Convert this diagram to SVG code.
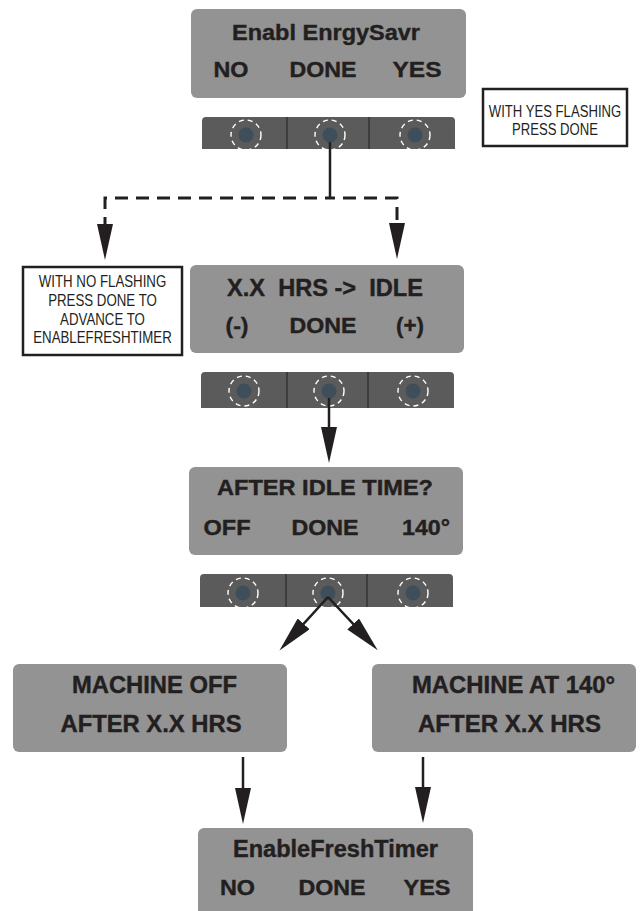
<svg xmlns="http://www.w3.org/2000/svg" width="642" height="911" viewBox="0 0 642 911">
<style>
.box{fill:#939393;}
.bar{fill:#5b5b5b;}
.div{stroke:#231f20;stroke-width:1;}
.ring{fill:none;stroke:#ffffff;stroke-width:1.4;stroke-dasharray:5 4;}
.dot{fill:#3e4f5b;}
.note{fill:#ffffff;stroke:#231f20;stroke-width:2.5;}
.t{font-family:"Liberation Sans",Arial,sans-serif;font-weight:bold;fill:#231f20;stroke:#231f20;stroke-width:0.4;text-anchor:middle;}
.n{font-family:"Liberation Sans",Arial,sans-serif;font-size:16px;fill:#231f20;text-anchor:middle;}
.ln{fill:none;stroke:#231f20;stroke-width:2.5;}
.dash{fill:none;stroke:#231f20;stroke-width:3;stroke-dasharray:13 8;stroke-dashoffset:8;}
</style>
<defs>
<marker id="ah" viewBox="0 0 36 16" refX="16" refY="8" markerWidth="36" markerHeight="16" orient="auto" markerUnits="userSpaceOnUse">
<path d="M0,0 L36,8 L0,16 Z" fill="#231f20"/>
</marker>
</defs>

<g id="enabl-energysavr">
<rect class="box" x="191" y="9" width="275" height="89" rx="6"/>
<text class="t" x="326" y="40" font-size="22" textLength="188" lengthAdjust="spacingAndGlyphs">Enabl EnrgySavr</text>
<text class="t" x="231" y="77" font-size="22" textLength="35" lengthAdjust="spacingAndGlyphs">NO</text>
<text class="t" x="323" y="77" font-size="22" textLength="67" lengthAdjust="spacingAndGlyphs">DONE</text>
<text class="t" x="417" y="77" font-size="22" textLength="49" lengthAdjust="spacingAndGlyphs">YES</text>
</g>

<g id="buttons-1">
<path class="bar" d="M202,149 V121 Q202,117 206,117 H451 Q455,117 455,121 V149 Z"/>
<line class="div" x1="287" y1="117" x2="287" y2="149"/>
<line class="div" x1="369" y1="117" x2="369" y2="149"/>
<circle class="dot" cx="246" cy="135" r="7.5"/><circle class="ring" cx="246" cy="135" r="15"/>
<circle class="dot" cx="330" cy="135" r="7.5"/><circle class="ring" cx="330" cy="135" r="15"/>
<circle class="dot" cx="415" cy="135" r="7.5"/><circle class="ring" cx="415" cy="135" r="15"/>
</g>

<g id="note-yes">
<rect class="note" x="483" y="89" width="144" height="57"/>
<text class="n" transform="translate(555,117) scale(0.82,1)" x="0" y="0">WITH YES FLASHING</text>
<text class="n" transform="translate(555,135) scale(0.82,1)" x="0" y="0">PRESS DONE</text>
</g>

<g id="note-no">
<rect class="note" x="23" y="267" width="159" height="88"/>
<text class="n" transform="translate(102.5,287) scale(0.83,1)" x="0" y="0">WITH NO FLASHING</text>
<text class="n" transform="translate(102.5,306) scale(0.83,1)" x="0" y="0">PRESS DONE TO</text>
<text class="n" transform="translate(102.5,325) scale(0.83,1)" x="0" y="0">ADVANCE TO</text>
<text class="n" transform="translate(102.5,343) scale(0.83,1)" x="0" y="0">ENABLEFRESHTIMER</text>
</g>

<g id="hrs-idle">
<rect class="box" x="190" y="265" width="274" height="88" rx="6"/>
<text class="t" x="325" y="296" font-size="23" textLength="196" lengthAdjust="spacingAndGlyphs" xml:space="preserve">X.X  HRS -&gt;  IDLE</text>
<text class="t" x="237" y="333" font-size="22" textLength="23" lengthAdjust="spacingAndGlyphs">(-)</text>
<text class="t" x="323" y="333" font-size="22" textLength="67" lengthAdjust="spacingAndGlyphs">DONE</text>
<text class="t" x="410" y="333" font-size="22" textLength="28" lengthAdjust="spacingAndGlyphs">(+)</text>
</g>

<g id="buttons-2">
<path class="bar" d="M201,408 V376 Q201,372 205,372 H450 Q454,372 454,376 V408 Z"/>
<line class="div" x1="287" y1="372" x2="287" y2="408"/>
<line class="div" x1="368" y1="372" x2="368" y2="408"/>
<circle class="dot" cx="244" cy="391" r="7.5"/><circle class="ring" cx="244" cy="391" r="15"/>
<circle class="dot" cx="329" cy="391" r="7.5"/><circle class="ring" cx="329" cy="391" r="15"/>
<circle class="dot" cx="413" cy="391" r="7.5"/><circle class="ring" cx="413" cy="391" r="15"/>
</g>

<g id="after-idle">
<rect class="box" x="189" y="467" width="274" height="88" rx="6"/>
<text class="t" x="325" y="495" font-size="22" textLength="216" lengthAdjust="spacingAndGlyphs">AFTER IDLE TIME?</text>
<text class="t" x="227" y="535" font-size="22" textLength="47" lengthAdjust="spacingAndGlyphs">OFF</text>
<text class="t" x="325" y="535" font-size="22" textLength="67" lengthAdjust="spacingAndGlyphs">DONE</text>
<text class="t" x="426" y="535" font-size="22" textLength="48" lengthAdjust="spacingAndGlyphs">140°</text>
</g>

<g id="buttons-3">
<path class="bar" d="M200,607 V578 Q200,574 204,574 H449 Q453,574 453,578 V607 Z"/>
<line class="div" x1="286" y1="574" x2="286" y2="607"/>
<line class="div" x1="367" y1="574" x2="367" y2="607"/>
<circle class="dot" cx="243" cy="593" r="7.5"/><circle class="ring" cx="243" cy="593" r="15"/>
<circle class="dot" cx="328" cy="593" r="7.5"/><circle class="ring" cx="328" cy="593" r="15"/>
<circle class="dot" cx="413" cy="593" r="7.5"/><circle class="ring" cx="413" cy="593" r="15"/>
</g>

<g id="machine-off">
<rect class="box" x="13" y="664" width="274" height="88" rx="6"/>
<text class="t" x="154.5" y="693" font-size="23" textLength="165" lengthAdjust="spacingAndGlyphs">MACHINE OFF</text>
<text class="t" x="151" y="732" font-size="23" textLength="181" lengthAdjust="spacingAndGlyphs">AFTER X.X HRS</text>
</g>

<g id="machine-140">
<rect class="box" x="372" y="664" width="264" height="88" rx="6"/>
<text class="t" x="513.5" y="693" font-size="23" textLength="203" lengthAdjust="spacingAndGlyphs">MACHINE AT 140°</text>
<text class="t" x="509.5" y="732" font-size="23" textLength="183" lengthAdjust="spacingAndGlyphs">AFTER X.X HRS</text>
</g>

<g id="enable-fresh-timer">
<rect class="box" x="198" y="828" width="275" height="95" rx="6"/>
<text class="t" x="335.5" y="857" font-size="23" textLength="205" lengthAdjust="spacingAndGlyphs">EnableFreshTimer</text>
<text class="t" x="237.5" y="895" font-size="22" textLength="35" lengthAdjust="spacingAndGlyphs">NO</text>
<text class="t" x="332" y="895" font-size="22" textLength="67" lengthAdjust="spacingAndGlyphs">DONE</text>
<text class="t" x="427" y="895" font-size="22" textLength="47" lengthAdjust="spacingAndGlyphs">YES</text>
</g>

<g id="connectors">
<line class="ln" x1="330" y1="142" x2="330" y2="199"/>
<path class="dash" d="M330,198 H105 V240" marker-end="url(#ah)"/>
<path class="dash" d="M330,198 H397 V239" marker-end="url(#ah)"/>
<path class="ln" d="M329,398 V443" marker-end="url(#ah)"/>
<path class="ln" d="M328,597 L292.9,635.7" marker-end="url(#ah)"/>
<path class="ln" d="M328,597 L364.1,635.7" marker-end="url(#ah)"/>
<path class="ln" d="M243,757 V804" marker-end="url(#ah)"/>
<path class="ln" d="M423,757 V803" marker-end="url(#ah)"/>
</g>
</svg>
